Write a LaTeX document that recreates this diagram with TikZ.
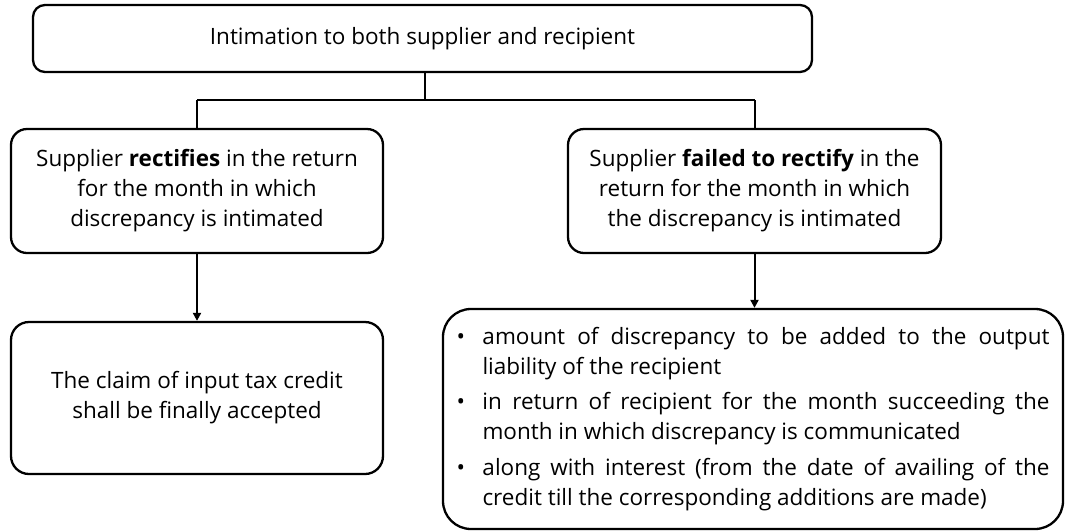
\documentclass[tikz,border=0pt]{standalone}
\usepackage{fontspec}
\setmainfont{Open Sans}
\usetikzlibrary{arrows.meta}
\tikzset{
  box/.style={draw, line width=2.3pt, rounded corners=#1, inner sep=0pt, align=center, font=\fontsize{22.5}{30}\selectfont},
  box/.default=14pt,
  conn/.style={line width=2pt},
  arr/.style={line width=2pt, -{Triangle[length=8pt,width=8pt]}}
}
\newcommand{\bitem}[1]{\makebox[26pt][l]{•}\parbox[t]{567pt}{#1}}
\begin{document}
\begin{tikzpicture}[x=1pt,y=-1pt]
\useasboundingbox (0,0) rectangle (1065,531);
\node[box=12pt, minimum width=779pt, minimum height=67pt] (top) at (422.5,38.5) {Intimation to both supplier and recipient};
\node[box=16pt, minimum width=372pt, minimum height=124pt] (ml) at (197,191) {\rule{0pt}{6pt}Supplier \textbf{rectifies} in the return\\for the month in which\\discrepancy is intimated};
\node[box=16pt, minimum width=373pt, minimum height=124pt] (mr) at (754.5,191) {\rule{0pt}{6pt}Supplier \textbf{failed to rectify} in the\\return for the month in which\\the discrepancy is intimated};
\node[box=18pt, minimum width=372pt, minimum height=152pt] (bl) at (197,398) {The claim of input tax credit\\shall be finally accepted};
\node[box=28pt, minimum width=620pt, minimum height=220pt] (br) at (753,419) {\begin{minipage}{593pt}\fontsize{22.5}{30}\selectfont\hyphenpenalty=10000 \exhyphenpenalty=10000
\bitem{amount of discrepancy to be added to the output liability of the recipient}\par\vspace{12pt}
\bitem{in return of recipient for the month succeeding the month in which discrepancy is communicated}\par\vspace{12pt}
\bitem{along with interest (from the date of availing of the credit till the corresponding additions are made)}
\end{minipage}};
\coordinate (jt) at (425,100);
\coordinate (jl) at (197,100);
\coordinate (jr) at (754.5,100);
\draw[conn] (top.south -| jt) -- (jt);
\draw[conn] (jl) -- (jr);
\draw[conn] (jl) -- (ml.north);
\draw[conn] (jr) -- (mr.north);
\draw[arr] (ml.south) -- (bl.north);
\draw[arr] (mr.south) -- (br.north -| mr.south);
\end{tikzpicture}
\end{document}
